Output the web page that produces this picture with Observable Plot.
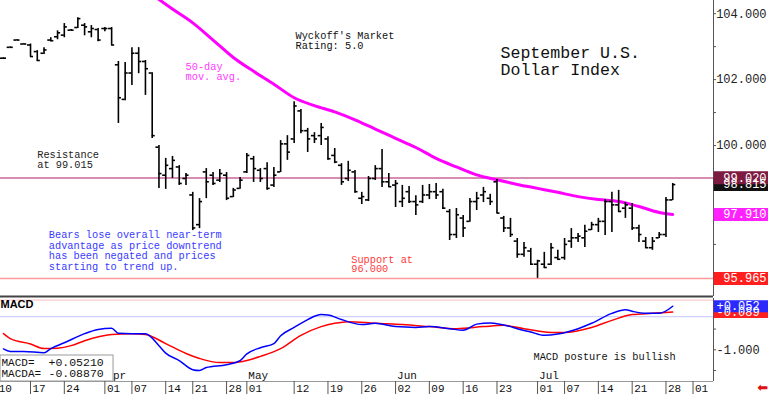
<!DOCTYPE html>
<html><head><meta charset="utf-8">
<script src="https://cdn.jsdelivr.net/npm/d3@7"></script>
<script src="https://cdn.jsdelivr.net/npm/@observablehq/plot@0.6"></script>
<style>
html,body{margin:0;padding:0;background:#fff;}
#chart{width:768px;height:394px;overflow:hidden;position:relative;}
#chart svg{display:block;}
</style></head><body><div id="chart"></div>
<script>
// ---- Price bars (September U.S. Dollar Index futures), one per trading day ----
const opens  = [102.65,102.98,103.20,103.08,103.05,102.85,102.80,103.20,103.30,103.35,103.50,103.58,103.65,103.45,103.52,103.55,103.55,102.45,101.40,102.20,102.80,102.55,102.20,99.95,99.10,99.30,99.35,99.00,98.50,97.60,99.20,99.10,98.95,99.10,98.45,98.70,99.20,99.60,99.25,99.30,98.80,99.20,100.05,100.20,101.05,100.45,100.30,100.30,100.20,99.70,99.40,99.00,99.20,98.40,98.35,99.00,99.30,98.90,98.80,98.30,98.60,98.30,98.30,98.50,98.60,98.60,98.00,97.30,97.80,97.70,98.30,98.50,98.40,98.90,97.80,97.50,97.10,96.70,96.80,96.40,96.40,96.40,96.60,96.60,97.10,97.20,97.20,97.45,97.60,97.70,98.30,98.20,98.10,98.10,97.50,97.10,96.90,97.20,97.30,98.35];
const highs  = [102.66,102.99,103.21,103.09,103.08,102.88,102.97,103.27,103.48,103.70,103.52,103.88,103.70,103.64,103.55,103.58,103.58,102.55,102.52,102.97,102.97,102.58,102.21,100.00,99.61,99.67,99.39,99.15,98.58,98.39,99.30,99.18,99.27,99.18,98.70,99.03,99.76,99.67,99.30,99.48,99.33,100.15,100.30,101.33,101.09,100.52,100.39,100.67,100.27,99.91,99.45,99.52,99.24,98.58,99.06,99.39,99.88,99.15,98.94,98.79,98.76,98.48,98.79,98.82,98.85,98.67,98.06,98.09,97.88,98.39,98.58,98.73,98.52,98.97,97.85,97.79,97.18,97.06,96.88,96.52,96.76,97.03,96.82,97.18,97.48,97.33,97.58,97.67,97.79,98.36,98.58,98.64,98.27,98.24,97.58,97.21,97.21,97.36,98.42,98.85];
const lows   = [102.64,102.97,103.19,103.07,102.68,102.55,102.76,103.15,103.21,103.27,103.48,103.55,103.33,103.27,103.15,103.45,103.03,100.67,101.36,101.82,102.18,101.52,100.21,98.70,98.67,99.00,98.79,98.79,97.42,97.48,98.39,98.79,98.88,98.33,98.42,98.67,99.15,98.88,98.88,98.64,98.73,99.18,99.55,100.06,100.36,99.79,100.06,100.00,99.55,99.45,98.79,98.91,98.55,98.21,98.30,98.94,98.73,98.73,98.12,98.12,98.24,97.88,98.24,98.36,98.36,98.06,97.12,97.18,97.21,97.67,98.03,98.27,98.18,97.94,97.36,97.21,96.58,96.61,96.36,95.97,96.27,96.36,96.52,96.52,96.88,97.06,96.91,97.42,97.36,97.27,97.36,97.97,97.79,97.42,97.06,96.88,96.82,97.18,97.21,98.33];
const closes = [102.65,102.98,103.20,103.08,102.70,102.58,102.90,103.18,103.42,103.60,103.50,103.85,103.60,103.55,103.20,103.55,103.05,101.45,102.20,102.80,102.55,102.33,100.30,99.15,99.40,99.55,98.85,99.10,97.50,98.30,98.90,98.85,99.15,98.40,98.65,98.95,99.70,99.30,99.00,98.70,99.10,100.05,99.80,101.20,100.45,100.20,100.20,100.55,99.60,99.50,98.90,99.25,98.60,98.45,99.00,99.30,98.90,98.75,98.85,98.40,98.30,98.20,98.50,98.60,98.50,98.10,97.30,97.90,97.50,98.30,98.40,98.60,98.30,97.95,97.50,97.30,96.70,96.90,96.40,96.50,96.30,96.90,96.55,97.00,97.20,97.25,97.40,97.60,97.70,98.30,98.20,98.00,98.20,97.50,97.30,96.90,97.10,97.30,98.35,98.815];

// ---- 50-day moving average (bar index, value) ----
const maIndex  = [22,25,28,31,34,37,40,43,46,49,52,55,58,61,64,67,70,73,76,79,82,85,88,91,94,97,99];
const maValues = [104.58,104.14,103.72,103.20,102.67,102.25,101.86,101.45,101.21,101.02,100.78,100.50,100.22,99.94,99.61,99.35,99.11,98.96,98.82,98.70,98.58,98.45,98.36,98.30,98.15,97.97,97.91];

// ---- MACD (blue) and MACDA signal (red) ----
const macdIndex  = [0,1,3,6,7,9,12,14,16,17,19,21,23,24,26,28,29,30,33,35,36,38,40,41,43,45,47,48,50,53,55,58,61,63,66,68,70,72,75,76,78,80,82,85,87,90,92,93,95,97,99];
const macdValues = [-0.98,-1.04,-1.04,-1.07,-0.97,-0.83,-0.61,-0.51,-0.48,-0.60,-0.61,-0.61,-0.90,-1.08,-1.26,-1.48,-1.50,-1.43,-1.36,-1.26,-1.10,-0.95,-0.85,-0.66,-0.46,-0.27,-0.15,-0.16,-0.27,-0.39,-0.36,-0.44,-0.46,-0.44,-0.49,-0.53,-0.38,-0.35,-0.44,-0.49,-0.57,-0.65,-0.62,-0.49,-0.36,-0.12,-0.03,-0.07,-0.12,-0.12,0.0521];
const signalIndex  = [0,1,4,6,8,10,12,16,19,21,24,27,29,32,34,36,38,41,44,47,49,51,55,59,63,67,71,74,77,81,83,87,90,93,96,99];
const signalValues = [-0.61,-0.73,-0.86,-0.97,-0.96,-0.90,-0.78,-0.63,-0.61,-0.63,-0.85,-1.09,-1.21,-1.31,-1.31,-1.26,-1.16,-0.97,-0.65,-0.44,-0.36,-0.32,-0.36,-0.39,-0.44,-0.49,-0.44,-0.41,-0.49,-0.58,-0.58,-0.46,-0.29,-0.15,-0.12,-0.0887];

// ---- Levels and tick labels ----
const resistance = 99.015, support = 95.965;
const lastClose = 98.815, lastMA = 97.91, resistLabel = 99.02, supportLabel = 95.965;
const macdLast = 0.0521, macdaLast = -0.0887;
const priceTicks = [96,97,98,99,100,101,102,103,104];
const priceLabels = [100,102,104];          // 96 and 98 are hidden under the level boxes
const macdTicks = [0,-0.5,-1,-1.5];
const macdLabels = [-1];                    // 0 is hidden under the MACD box
const tickIndex  = [-1,4,9,15,19,24,28,33,36,43,48,53,58,63,68,73,79,83,88,93,98,102];
const tickLabels = ["10","17","24","01","07","14","21","28","01","12","19","26","02","09","16","23","01","07","14","21","28","01"];
const monthIndex  = [15,36,58,79];
const monthLabels = ["Apr","May","Jun","Jul"];

// ---- Build tables ----
const bars = opens.map((o, i) => ({i, open: o, high: highs[i], low: lows[i], close: closes[i]}));
const ma = maIndex.map((i, k) => ({i, v: maValues[k]}));
const macd = macdIndex.map((i, k) => ({i, v: macdValues[k]}));
const signal = signalIndex.map((i, k) => ({i, v: signalValues[k]}));
const ticks = tickIndex.map((i, k) => ({i, label: tickLabels[k]}));
const months = monthIndex.map((i, k) => ({i, label: monthLabels[k]}));

const X0 = -0.44, X1 = 105.03;          // visible bar-index range
const Y0 = 95.42, Y1 = 104.40;          // price range
const M0 = -1.766, M1 = 0.239;          // MACD range
const half = 0.45;                       // open/close tick length in bar units
const mono = "'Liberation Mono', 'DejaVu Sans Mono', monospace";
const boxL = X1, boxR = X1 + 8.6, textR = X1 + 7.85;

const priceBoxes = [
  {v: lastClose, label: lastClose.toFixed(3), bg: "#111111"},
  {v: resistLabel, label: resistLabel.toFixed(3), bg: "#7d1a40"},
  {v: lastMA, label: lastMA.toFixed(3), bg: "#ff22ff"},
  {v: supportLabel, label: supportLabel.toFixed(3), bg: "#ff1f1f"}
];
const macdBoxes = [
  {v: macdaLast, label: macdaLast.toFixed(3), bg: "#ff2020"},
  {v: macdLast, label: "+" + macdLast.toFixed(3), bg: "#2a2aff"}
];

const notes = [
  {i: 43.20, v: 103.165, text: "Wyckoff's Market\nRating: 5.0", color: "#111", size: 10.3, lh: 0.97},
  {i: 73.52, v: 102.57, text: "September U.S.\nDollar Index", color: "#111", size: 16.6, lh: 1.04},
  {i: 26.93, v: 102.25, text: "50-day\nmov. avg.", color: "#ff3cff", size: 10.3, lh: 1.0},
  {i: 4.99,  v: 99.567, text: "Resistance\nat 99.015", color: "#222", size: 10.3, lh: 0.97},
  {i: 6.70,  v: 96.81,  text: "Bears lose overall near-term\nadvantage as price downtrend\nhas been negated and prices\nstarting to trend up.", color: "#3a3aff", size: 10.3, lh: 1.03},
  {i: 51.44, v: 96.397, text: "Support at\n96.000", color: "#ff3a3a", size: 10.3, lh: 0.95}
];

const main = Plot.plot({
  width: 768, height: 298,
  marginLeft: 0, marginRight: 55, marginTop: 0, marginBottom: 2,
  style: {background: "white", fontFamily: mono},
  x: {domain: [X0, X1], axis: null},
  y: {domain: [Y0, Y1], axis: null},
  marks: [
    Plot.ruleY([resistance], {stroke: "#cc6699", strokeWidth: 1.3}),
    Plot.ruleY([support], {stroke: "#ff9a9a", strokeWidth: 1.6}),
    Plot.line(ma, {x: "i", y: "v", stroke: "#ff00ff", strokeWidth: 3, curve: "monotone-x", clip: true}),
    Plot.ruleX(bars, {x: "i", y1: "low", y2: "high", stroke: "#000", strokeWidth: 1.6}),
    Plot.ruleY(bars, {y: "open", x1: d => d.i - half, x2: "i", stroke: "#000", strokeWidth: 1.6}),
    Plot.ruleY(bars, {y: "close", x1: "i", x2: d => d.i + half, stroke: "#000", strokeWidth: 1.6}),
    ...notes.map(n => Plot.text([n], {x: "i", y: "v", text: "text", textAnchor: "start", fill: n.color,
      fontSize: n.size, lineHeight: n.lh, fontFamily: mono})),
    // right price axis
    Plot.ruleX([X1], {stroke: "#555", strokeWidth: 1}),
    Plot.ruleY(priceTicks, {x1: X1, x2: X1 + 0.45, stroke: "#555"}),
    Plot.text(priceLabels, {x: textR, y: d => d, text: d => d.toFixed(3), textAnchor: "end",
      fontSize: 12, fill: "#222", fontFamily: mono}),
    Plot.ruleY(priceBoxes, {y: "v", x1: boxL + 0.1, x2: boxR, stroke: "bg", strokeWidth: 13}),
    Plot.text(priceBoxes, {x: textR, y: "v", text: "label", textAnchor: "end", fill: "white",
      fontSize: 12, fontFamily: mono}),
    Plot.ruleY([Y0], {stroke: "#444", strokeWidth: 2})
  ]
});

const lower = Plot.plot({
  width: 768, height: 96,
  marginLeft: 0, marginRight: 55, marginTop: 0, marginBottom: 13,
  style: {background: "white", fontFamily: mono},
  x: {domain: [X0, X1], axis: null},
  y: {domain: [M0, M1], axis: null},
  marks: [
    Plot.ruleY([0.2], {stroke: "#ffcccc", strokeWidth: 1.2}),
    Plot.ruleY([-0.2], {stroke: "#d0d0ff", strokeWidth: 1.2}),
    Plot.line(signal, {x: "i", y: "v", stroke: "#ff0000", strokeWidth: 1.5, curve: "monotone-x"}),
    Plot.line(macd, {x: "i", y: "v", stroke: "#0000ff", strokeWidth: 1.5, curve: "monotone-x"}),
    Plot.text(["MACD"], {x: X0, y: 0.094, text: d => d, textAnchor: "start", fontWeight: "bold",
      fontSize: 11, fill: "#000", fontFamily: "'Liberation Sans', Arial, sans-serif"}),
    Plot.text(["MACD posture is bullish"], {x: 78.4, y: -1.162, text: d => d, textAnchor: "start",
      fontSize: 10.3, fill: "#111", fontFamily: mono}),
    Plot.text(months, {x: "i", y: -1.621, text: "label", textAnchor: "start", dx: 1.5,
      fontSize: 11, fill: "#111", fontFamily: mono}),
    // values box
    Plot.rect([{}], {x1: X0, x2: 16.28, y1: -1.138, y2: M0, fill: "white", stroke: "#999", strokeWidth: 1}),
    Plot.text(["MACD=", "MACDA="], {x: -0.29, y: (d, k) => k === 0 ? -1.300 : -1.566, text: d => d,
      textAnchor: "start", fontSize: 11, fill: "#111", fontFamily: mono}),
    Plot.text([macdLast, macdaLast], {x: 6.66, y: (d, k) => k === 0 ? -1.300 : -1.566,
      text: d => (d >= 0 ? "+" : "-") + Math.abs(d).toFixed(5), textAnchor: "start", fontSize: 11.5,
      fill: "#111", fontFamily: mono}),
    // axes
    Plot.ruleX([X1], {stroke: "#555", strokeWidth: 1}),
    Plot.ruleY([M0], {stroke: "#999", strokeWidth: 1}),
    Plot.ruleY(macdTicks, {x1: X1, x2: X1 + 0.45, stroke: "#555"}),
    Plot.text(macdLabels, {x: X1, y: d => d, dx: 3, text: d => d.toFixed(3), textAnchor: "start",
      fontSize: 12, fill: "#222", fontFamily: mono}),
    Plot.ruleY(macdBoxes, {y: "v", x1: boxL + 0.1, x2: boxR, stroke: "bg", strokeWidth: 12}),
    Plot.text(macdBoxes, {x: X1, y: "v", dx: 3, text: "label", textAnchor: "start", fill: "white",
      fontSize: 12, fontFamily: mono}),
    // bottom date axis
    Plot.ruleX(ticks, {x: "i", y1: M0, y2: M0 - 0.33, stroke: "#555", strokeWidth: 1}),
    Plot.text(ticks, {x: "i", y: -1.928, dx: 2, text: "label", textAnchor: "start", fontSize: 11,
      fill: "#111", fontFamily: mono}),
    Plot.text(["\u2B05"], {x: 112.3, y: -1.911, text: d => d, fill: "#e01010", fontSize: 13,
      fontFamily: "'DejaVu Sans', sans-serif"})
  ]
});

const root = document.getElementById("chart");
root.append(main, lower);
</script>
</body></html>
